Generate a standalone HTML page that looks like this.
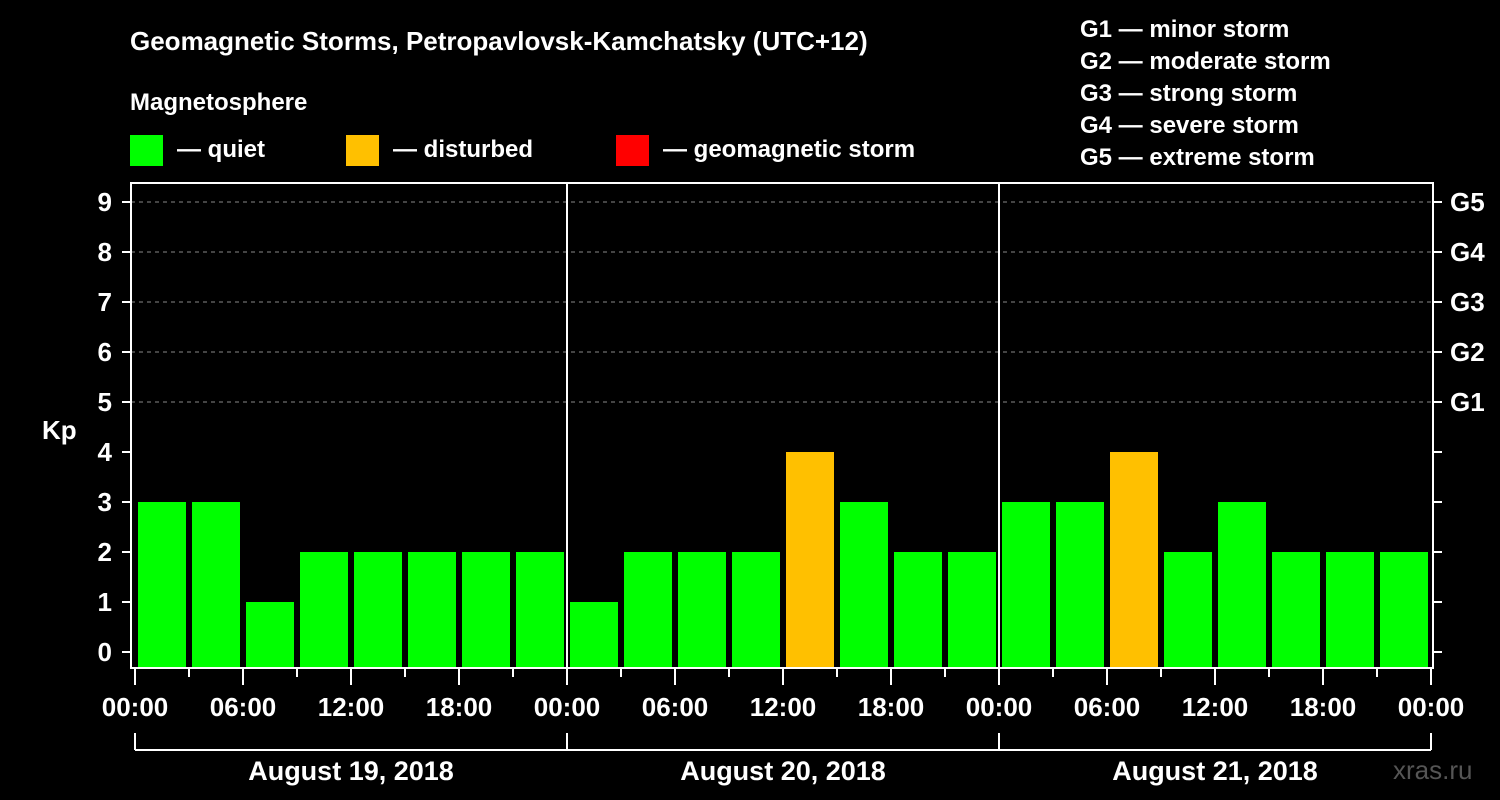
<!DOCTYPE html>
<html><head><meta charset="utf-8"><style>
body{margin:0;background:#000;}
svg{display:block;font-family:"Liberation Sans",Arial,sans-serif;font-weight:bold;}
</style></head><body>
<svg id="c" width="1500" height="800">
<g fill="#fff">
<text x="130" y="50" font-size="26">Geomagnetic Storms, Petropavlovsk-Kamchatsky (UTC+12)</text>
<text x="130" y="110" font-size="24">Magnetosphere</text>
<rect x="130" y="135" width="33" height="31" fill="#00ff00"/>
<text x="177" y="157" font-size="24">— quiet</text>
<rect x="346" y="135" width="33" height="31" fill="#ffc000"/>
<text x="393" y="157" font-size="24">— disturbed</text>
<rect x="616" y="135" width="33" height="31" fill="#ff0000"/>
<text x="663" y="157" font-size="24">— geomagnetic storm</text>
<text x="1080" y="37" font-size="24">G1 — minor storm</text>
<text x="1080" y="69" font-size="24">G2 — moderate storm</text>
<text x="1080" y="101" font-size="24">G3 — strong storm</text>
<text x="1080" y="133" font-size="24">G4 — severe storm</text>
<text x="1080" y="165" font-size="24">G5 — extreme storm</text>
<text x="42" y="439" font-size="26">Kp</text>
<text x="1393" y="779" font-size="26" fill="#555" font-weight="normal">xras.ru</text>
</g>
<g id="plot"></g>
</svg>
<script>
const kpValues=[3,3,1,2,2,2,2,2, 1,2,2,2,4,3,2,2, 3,3,4,2,3,2,2,2];
const dayLabels=["August 19, 2018","August 20, 2018","August 21, 2018"];
const xTickLabels=["00:00","06:00","12:00","18:00"];
const yTicks=[0,1,2,3,4,5,6,7,8,9];
const gLabels=["G1","G2","G3","G4","G5"];
const NS="http://www.w3.org/2000/svg";
const g=document.getElementById('plot');
const L=131,R=1433,T=183,B=668,X0=135,PXH=18;
const x=h=>X0+h*PXH;
const y=v=>652-v*50;
function el(tag,a,parent){const e=document.createElementNS(NS,tag);for(const k in a)e.setAttribute(k,a[k]);(parent||g).appendChild(e);return e;}
// grid
yTicks.forEach(v=>{
 if(v>=5){const l=el('line',{x1:L,x2:R,y1:y(v),y2:y(v),stroke:'#888','stroke-dasharray':'4,4','stroke-width':1});
 
 }
 const t1=el('line',{x1:122,x2:L,y1:y(v),y2:y(v),stroke:'#fff','stroke-width':2});
 
 
 const t2=el('line',{x1:R,x2:1442,y1:y(v),y2:y(v),stroke:'#fff','stroke-width':2});
 
 
 const tl=el('text',{x:112,y:y(v)+9,'text-anchor':'end','font-size':26,fill:'#fff'});
 tl.textContent=v;
 
 
});
gLabels.forEach((s,i)=>{
 const t=el('text',{x:1450,y:y(5+i)+9,'font-size':26,fill:'#fff'});t.textContent=s;
 
 
});
// bars
kpValues.forEach((v,i)=>{
 const b=el('rect',{x:x(i*3)+3,width:48,y:y(v),height:B-y(v),fill:v>=5?'#ff0000':(v>=4?'#ffc000':'#00ff00')});
 
 
});
// frame & day separators
const f=el('rect',{x:L,y:T,width:R-L,height:B-T,fill:'none',stroke:'#fff','stroke-width':2});


for(let d=1;d<dayLabels.length;d++){const s=el('line',{x1:x(d*24),x2:x(d*24),y1:T,y2:B,stroke:'#fff','stroke-width':2});
 
 }
// x ticks
for(let h=0;h<=72;h+=3){
 const major=h%6===0;
 const t=el('line',{x1:x(h),x2:x(h),y1:B,y2:B+(major?17:9),stroke:'#fff','stroke-width':2});
 
 
 if(major){const lab=el('text',{x:x(h),y:716,'text-anchor':'middle','font-size':26,fill:'#fff'});
  lab.textContent=xTickLabels[(h/6)%4];
  
  }
}
// day brackets
const br=el('line',{x1:x(0),x2:x(72),y1:750,y2:750,stroke:'#fff','stroke-width':2});


for(let d=0;d<=dayLabels.length;d++){const v=el('line',{x1:x(d*24),x2:x(d*24),y1:733,y2:750,stroke:'#fff','stroke-width':2});
 
 }
dayLabels.forEach((s,d)=>{
 const t=el('text',{x:x(d*24+12),y:780,'text-anchor':'middle','font-size':27,fill:'#fff'});t.textContent=s;
 
 
});
</script>
</body></html>
